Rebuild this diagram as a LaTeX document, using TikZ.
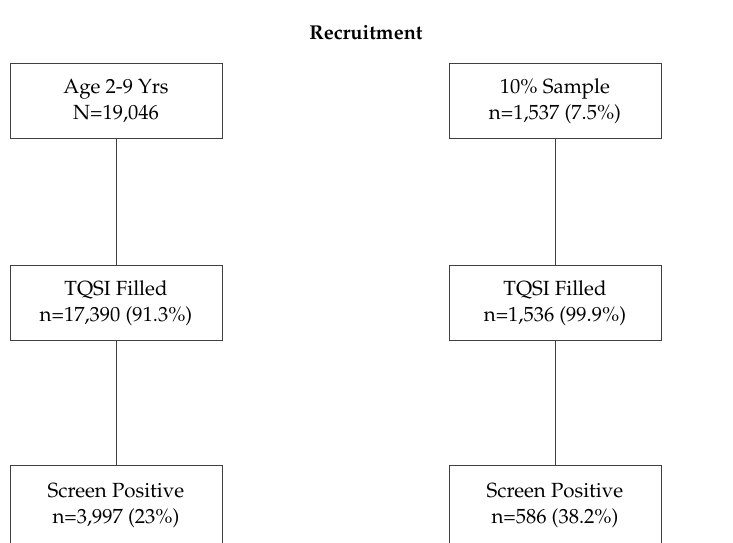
\documentclass[tikz,border=0pt]{standalone}
\usepackage[T1]{fontenc}
\usepackage{mathpazo}
\begin{document}
\begin{tikzpicture}[x=1pt,y=-1pt,
  stagebox/.style={draw=black!75, line width=0.9pt, minimum width=212pt, minimum height=75pt,
    align=center, font=\fontsize{20.5}{26}\selectfont, inner sep=0pt},
  lastbox/.style={stagebox, minimum height=80pt, text depth=5pt},
  link/.style={draw=black!75, line width=0.9pt}]
  \useasboundingbox (0,0) rectangle (733,542);
  \node[font=\bfseries\fontsize{20}{24}\selectfont] (title) at (366,33) {Recruitment};

  \node[stagebox] (a1) at (116,101) {Age 2-9 Yrs\\N=19,046};
  \node[stagebox] (a2) at (116,303) {TQSI Filled\\n=17,390 (91.3\%)};
  \node[lastbox] (a3) at (116,505.5) {Screen Positive\\n=3,997 (23\%)};

  \node[stagebox] (b1) at (555,101) {10\% Sample\\n=1,537 (7.5\%)};
  \node[stagebox] (b2) at (555,303) {TQSI Filled\\n=1,536 (99.9\%)};
  \node[lastbox] (b3) at (555,505.5) {Screen Positive\\n=586 (38.2\%)};

  \draw[link] (a1) -- (a2);
  \draw[link] (a2) -- (a3);
  \draw[link] (b1) -- (b2);
  \draw[link] (b2) -- (b3);
\end{tikzpicture}
\end{document}
